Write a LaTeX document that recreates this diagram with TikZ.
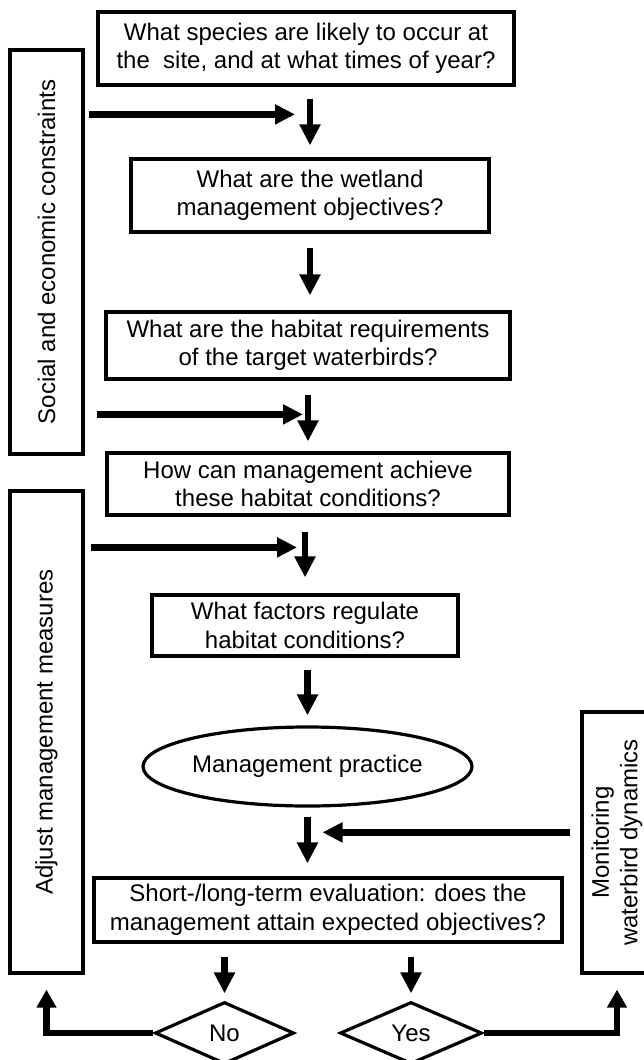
\documentclass[tikz,border=0pt]{standalone}
\usepackage{fontspec}
\setmainfont{Liberation Sans}
\usetikzlibrary{arrows.meta,shapes.geometric,calc}
\begin{document}
\begin{tikzpicture}[x=1pt,y=-1pt,
  every node/.style={font=\fontsize{24}{28.5}\selectfont, align=center, inner sep=0pt},
  qbox/.style={draw, line width=3.2pt, rectangle},
  sidebox/.style={draw, line width=3.2pt, rectangle, rotate=90},
  diam/.style={draw, line width=3.2pt, diamond},
  varr/.style={line width=6.5pt, -{Triangle[length=21pt,width=20pt]}},
  harr/.style={line width=6.5pt, -{Triangle[length=20pt,width=19pt]}},
  fb/.style={line width=6.5pt, -{Triangle[length=18pt,width=19pt]}}
]
\useasboundingbox (0,0) rectangle (643,1060);

\node[qbox, minimum width=416pt, minimum height=73pt] (q1) at (306,48.5)
  {What species are likely to occur at\\the~ site, and at what times of year?};
\node[qbox, minimum width=358pt, minimum height=73pt] (q2) at (310,195.5)
  {What are the wetland\\management objectives?};
\node[qbox, minimum width=404pt, minimum height=67pt] (q3) at (308,345.5)
  {What are the habitat requirements\\of the target waterbirds?};
\node[qbox, minimum width=402pt, minimum height=62pt] (q4) at (308,484)
  {How can management achieve\\these habitat conditions?};
\node[qbox, minimum width=306pt, minimum height=61pt] (q5) at (305,625.5)
  {What factors regulate\\habitat conditions?};
\node[draw, ellipse, line width=3.2pt, minimum width=329pt, minimum height=79pt] (mp) at (307.5,766.5)
  {Management practice};
\node[qbox, minimum width=468pt, minimum height=64pt] (q6) at (328,910)
  {Short-/long-term evaluation: does the\\management attain expected objectives?};

\node[sidebox, minimum width=404pt, minimum height=73pt] (soc) at (46.5,252)
  {Social and economic constraints};
\node[sidebox, minimum width=482pt, minimum height=73pt] (adj) at (46.5,732)
  {Adjust management measures};
\node[sidebox, minimum width=261pt, minimum height=70pt] (mon) at (617,842.5)
  {Monitoring\\waterbird dynamics};

\node[diam, minimum width=139pt, minimum height=62pt] (no) at (224.5,1033) {No};
\node[diam, minimum width=142pt, minimum height=62pt] (yes) at (411,1033) {Yes};

% vertical flow arrows
\draw[varr, shorten <=12pt, shorten >=12pt] (q1.south -| q2.north) -- (q2.north);
\draw[varr, shorten <=14pt, shorten >=15pt] (q2.south) -- (q2.south |- q3.north);
\draw[varr, shorten <=14pt, shorten >=10pt] (q3.south) -- (q3.south |- q4.north);
\draw[varr, shorten <=15pt, shorten >=16pt] (q4.south -| q5.north) -- (q5.north);
\draw[varr, shorten <=12pt, shorten >=10pt] (q5.south -| mp.north) -- (mp.north);
\draw[varr, shorten <=9pt, shorten >=13pt] (mp.south) -- (mp.south |- q6.north);
\draw[varr, shorten <=13pt, shorten >=7pt] (q6.south -| no.north) -- (no.north);
\draw[varr, shorten <=13pt, shorten >=7pt] (q6.south -| yes.north) -- (yes.north);

% side inputs
\coordinate (j1) at ($(q2.north)+(-15,-43)$);
\coordinate (j2) at ($(q4.north)+(-5,-37)$);
\coordinate (j3) at ($(q5.north)+(-8,-46)$);
\coordinate (j4) at ($(q6.north -| mp.south)+(15,-44)$);
\draw[harr, shorten <=4pt] (soc.south |- j1) -- (j1);
\draw[harr, shorten <=12pt] (soc.south |- j2) -- (j2);
\draw[harr, shorten <=6pt] (adj.south |- j3) -- (j3);
\draw[harr, shorten <=10pt] (mon.north |- j4) -- (j4);

% feedback
\draw[fb, shorten >=15pt] (no.west) -| (adj.west);
\draw[fb, shorten >=15pt] (yes.east) -| (mon.west);
\end{tikzpicture}
\end{document}
